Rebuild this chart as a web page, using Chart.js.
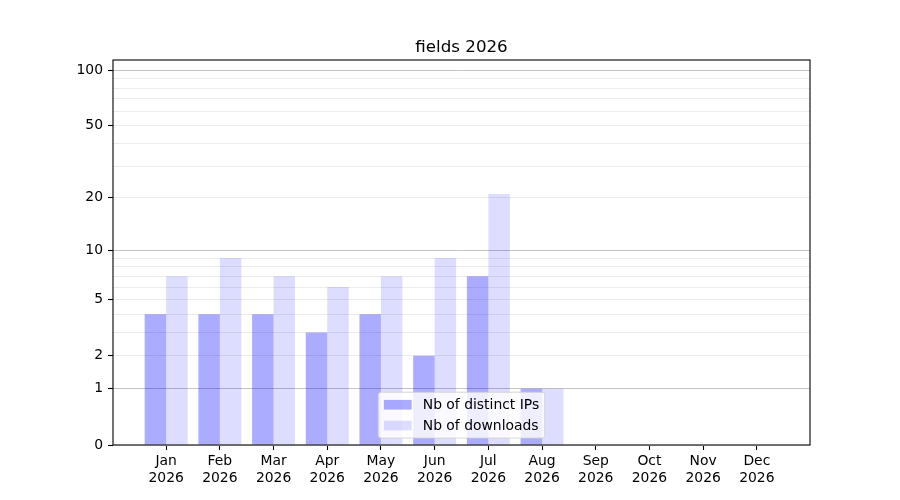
<!DOCTYPE html>
<html>
<head>
<meta charset="utf-8">
<script src="https://cdn.jsdelivr.net/npm/chart.js@4/dist/chart.umd.min.js"></script>
<style>
  html, body { margin: 0; padding: 0; background: #fff; }
  canvas { display: block; }
</style>
</head>
<body>
<canvas id="chart" width="900" height="500"></canvas>
<script>
const TITLE = "fields 2026";
const YEAR = "2026";
const MONTHS = ["Jan", "Feb", "Mar", "Apr", "May", "Jun", "Jul", "Aug", "Sep", "Oct", "Nov", "Dec"];
const IPS = [4, 4, 4, 3, 4, 2, 7, 1, 0, 0, 0, 0];
const DOWNLOADS = [7, 9, 7, 6, 7, 9, 21, 1, 0, 0, 0, 0];
const Y_MAJOR = [0, 1, 2, 5, 10, 20, 50, 100];
const Y_MINOR = [3, 4, 6, 7, 8, 9, 30, 40, 60, 70, 80, 90];
const Y_DARK = [1, 10, 100];
const FONT = "'DejaVu Sans', 'Liberation Sans', sans-serif";

// y axis is log10(1 + v), like the matplotlib function scale in the source
const fwd = v => Math.log10(1 + Math.max(v, 0));
const inv = t => Math.pow(10, t) - 1;

class Log1pScale extends Chart.Scale {
  static id = "log1p";
  static defaults = {};
  parse(raw) { return raw == null ? null : +raw; }
  determineDataLimits() { this.min = this.options.min ?? 0; this.max = this.options.max ?? 100; }
  buildTicks() { return [...Y_MAJOR, ...Y_MINOR].sort((a, b) => a - b).map(v => ({ value: v })); }
  getLabelForValue(v) { return String(v); }
  configure() { super.configure(); this._t0 = fwd(this.min); this._tr = fwd(this.max) - this._t0; }
  getPixelForValue(v) { return this.getPixelForDecimal((fwd(v) - this._t0) / this._tr); }
  getValueForPixel(p) { return inv(this._t0 + this.getDecimalForPixel(p) * this._tr); }
}
Chart.register(Log1pScale);

Chart.defaults.font.family = FONT;
Chart.defaults.color = "#000";

// frame + title centred over the plot area, matplotlib style
const frame = {
  id: "frame",
  afterDatasetsDraw(chart) {
    const { ctx, chartArea: a } = chart;
    ctx.save(); ctx.strokeStyle = "#000"; ctx.lineWidth = 1.1;
    ctx.strokeRect(a.left, a.top, a.right - a.left, a.bottom - a.top);
    ctx.font = `16.7px ${FONT}`; ctx.fillStyle = "#000";
    ctx.textAlign = "center"; ctx.textBaseline = "alphabetic";
    ctx.fillText(TITLE, (a.left + a.right) / 2, a.top - 8.3);
    ctx.restore();
  }
};

const boxLegend = {
  id: "boxLegend",
  afterDraw(chart) {
    const { ctx, chartArea: a } = chart;
    const fs = 13.9, pad = 5.6, handle = 27.8, gap = 11.1, spacing = 6.9, sh = 9.7;
    const ds = chart.data.datasets;
    ctx.save();
    ctx.font = `${fs}px ${FONT}`;
    const tw = Math.max(...ds.map(d => ctx.measureText(d.label).width));
    const w = pad * 2 + handle + gap + tw, h = pad * 2 + fs * ds.length + spacing * (ds.length - 1);
    const x = (a.left + a.right) / 2 - w / 2, y = a.bottom - 6.9 - h;
    ctx.beginPath(); ctx.roundRect(x, y, w, h, 2.8);
    ctx.fillStyle = "rgba(255,255,255,0.8)"; ctx.fill();
    ctx.strokeStyle = "rgba(204,204,204,0.8)"; ctx.lineWidth = 1; ctx.stroke();
    ds.forEach((d, i) => {
      const cy = y + pad + fs / 2 + i * (fs + spacing);
      ctx.fillStyle = d.backgroundColor;
      ctx.fillRect(x + pad, cy - sh / 2, handle, sh);
      ctx.fillStyle = "#000"; ctx.textBaseline = "middle"; ctx.textAlign = "left";
      ctx.fillText(d.label, x + pad + handle + gap, cy + 1);
    });
    ctx.restore();
  }
};

new Chart(document.getElementById("chart"), {
  type: "bar",
  data: {
    datasets: [
      { label: "Nb of distinct IPs", data: IPS.map((v, i) => ({ x: i, y: v })), backgroundColor: "rgba(0,0,255,0.33)", borderWidth: 0 },
      { label: "Nb of downloads", data: DOWNLOADS.map((v, i) => ({ x: i, y: v })), backgroundColor: "rgba(0,0,255,0.135)", borderWidth: 0 }
    ]
  },
  options: {
    responsive: false, animation: false, devicePixelRatio: 1,
    categoryPercentage: 0.8, barPercentage: 1.0,
    layout: { padding: { left: 0, right: 90, top: 60, bottom: 0 } },
    plugins: { legend: { display: false }, tooltip: { enabled: false }, title: { display: false } },
    scales: {
      x: {
        type: "linear", min: -0.99, max: 11.99, offset: false,
        afterBuildTicks: s => { s.ticks = MONTHS.map((_, i) => ({ value: i })); },
        afterFit: s => { s.height = 55; },
        border: { display: false },
        grid: { display: true, offset: false, drawOnChartArea: false, drawTicks: true, tickLength: 5, tickColor: "#000", tickWidth: 1.1 },
        ticks: { autoSkip: false, maxRotation: 0, padding: 3, font: { size: 13.9, lineHeight: 1.2 }, color: "#000", callback: v => [MONTHS[v], YEAR] }
      },
      y: {
        type: "log1p", min: 0, max: 113.7,
        afterFit: s => { s.width = 113; },
        border: { display: false },
        grid: {
          drawTicks: true, tickLength: 5, tickWidth: 1.1,
          color: c => c.tick && Y_DARK.includes(c.tick.value) ? "#c4c4c4" : "#ececec",
          tickColor: c => c.tick && Y_MAJOR.includes(c.tick.value) ? "#000" : "rgba(0,0,0,0)"
        },
        ticks: { autoSkip: false, padding: 5, font: { size: 13.9 }, color: "#000", callback: v => Y_MAJOR.includes(v) ? String(v) : "" }
      }
    }
  },
  plugins: [frame, boxLegend]
});
</script>
</body>
</html>
